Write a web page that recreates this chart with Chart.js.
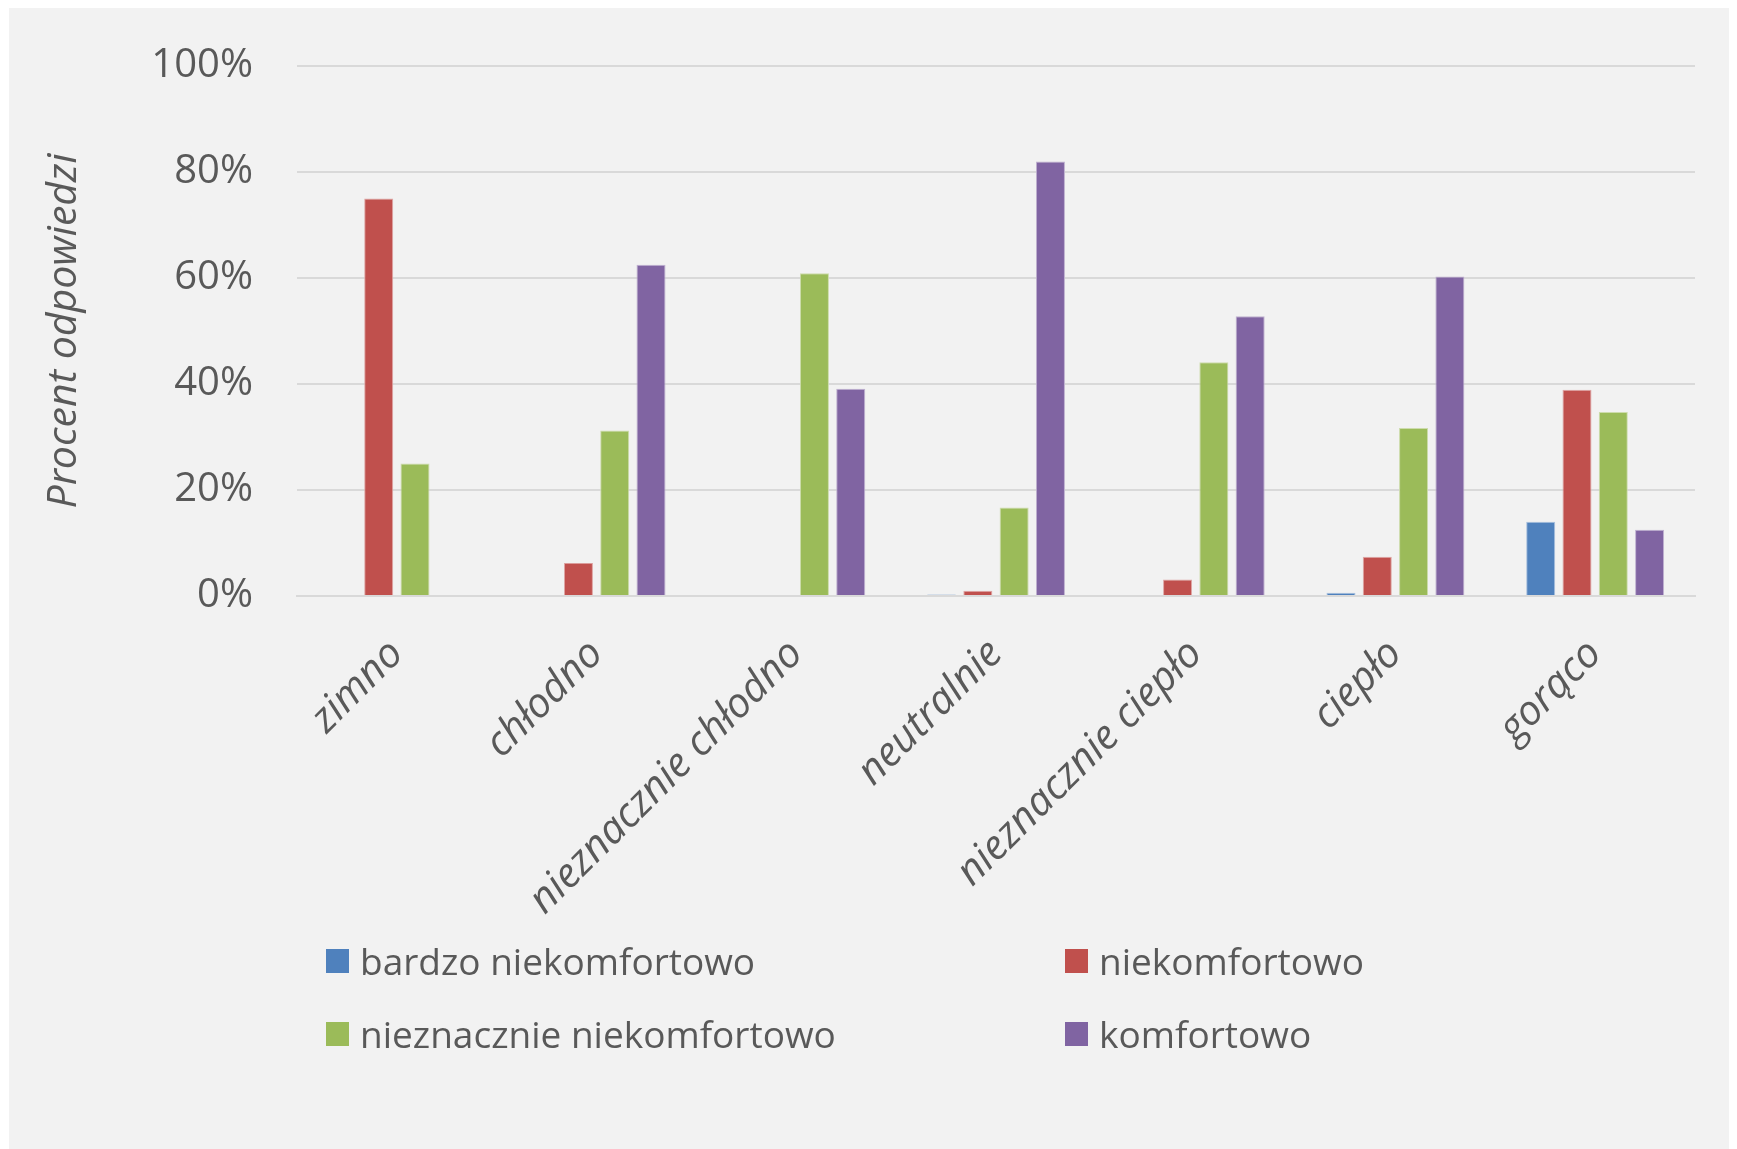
<!DOCTYPE html>
<html lang="pl">
<head>
<meta charset="UTF-8">
<title>Procent odpowiedzi</title>
<script src="https://cdn.jsdelivr.net/npm/chart.js"></script>
<style>
    body {
        margin: 0;
        background: #ffffff;
        font-family: "Open Sans", sans-serif;
    }
    #panel {
        position: absolute;
        left: 9px;
        top: 8px;
        width: 1720px;
        height: 1141px;
        background: #f2f2f2;
    }
    #chartBox {
        position: absolute;
        left: 0;
        top: 0;
        width: 1720px;
        height: 930px;
    }
    #legend {
        position: absolute;
        left: 317px;
        top: 916px;
        display: grid;
        grid-template-columns: 739px 400px;
        grid-auto-rows: 73px;
        color: #595959;
        font-size: 37px;
    }
    .item {
        display: flex;
        align-items: center;
    }
    .swatch {
        width: 23px;
        height: 24px;
        margin-right: 11px;
    }
</style>
</head>
<body>
<div id="panel">
    <div id="chartBox"><canvas id="myChart"></canvas></div>
    <div id="legend"></div>
</div>

<script>
    const categories = ['zimno', 'chłodno', 'nieznacznie chłodno', 'neutralnie', 'nieznacznie ciepło', 'ciepło', 'gorąco'];
    const seriesNames = ['bardzo niekomfortowo', 'niekomfortowo', 'nieznacznie niekomfortowo', 'komfortowo'];
    const bardzoNiekomfortowo = [0, 0, 0, 0.3, 0, 0.6, 14.0];
    const niekomfortowo = [75.0, 6.25, 0, 1.0, 3.1, 7.4, 38.9];
    const nieznacznieNiekomfortowo = [25.0, 31.25, 60.9, 16.7, 44.1, 31.7, 34.7];
    const komfortowo = [0, 62.5, 39.1, 82.0, 52.8, 60.3, 12.5];
    const yTicks = [0, 20, 40, 60, 80, 100];

    const colors = ['#4f81bd', '#c0504d', '#9bbb59', '#8064a2'];
    const edges = ['#a7c0de', '#dfa7a6', '#cddcac', '#bfb1d0'];
    const values = [bardzoNiekomfortowo, niekomfortowo, nieznacznieNiekomfortowo, komfortowo];

    const textColor = '#595959';
    const gridColor = '#d9d9d9';

    const datasets = seriesNames.map((name, i) => ({
        label: name,
        data: values[i],
        backgroundColor: colors[i],
        borderColor: edges[i],
        borderWidth: 1,
        categoryPercentage: 0.727,
        barPercentage: 0.8
    }));

    const ctx = document.getElementById('myChart').getContext('2d');
    const chart = new Chart(ctx, {
        type: 'bar',
        data: {
            labels: categories,
            datasets: datasets
        },
        options: {
            responsive: true,
            maintainAspectRatio: false,
            animation: false,
            layout: {
                padding: { top: 58, right: 34, left: 0, bottom: 0 }
            },
            plugins: {
                legend: { display: false },
                tooltip: { enabled: false }
            },
            scales: {
                x: {
                    grid: { display: false },
                    border: { display: true, color: gridColor, width: 2 },
                    ticks: {
                        color: textColor,
                        font: { family: 'Open Sans', size: 41, style: 'italic' },
                        minRotation: 45,
                        maxRotation: 45,
                        autoSkip: false,
                        padding: 26
                    },
                    afterFit: function(scale) {
                        scale.height = 342;
                    }
                },
                y: {
                    min: 0,
                    max: 100,
                    afterBuildTicks: function(scale) {
                        scale.ticks = yTicks.map(v => ({ value: v }));
                    },
                    grid: { color: gridColor, lineWidth: 2, drawTicks: false },
                    border: { display: false },
                    ticks: {
                        color: textColor,
                        font: { family: 'Open Sans', size: 40 },
                        padding: 44,
                        callback: v => v + '%'
                    },
                    title: {
                        display: true,
                        text: 'Procent odpowiedzi',
                        color: textColor,
                        font: { family: 'Open Sans', size: 41, style: 'italic' },
                        padding: { top: 31, bottom: 0 }
                    },
                    afterFit: function(scale) {
                        scale.width = 288;
                        // the tick padding must not push the plot area down
                        scale.paddingTop = 0;
                        scale.paddingBottom = 0;
                    }
                }
            }
        }
    });

    // legenda w dwóch kolumnach, jak w oryginale
    const legend = document.getElementById('legend');
    chart.data.datasets.forEach((ds, i) => {
        const item = document.createElement('div');
        item.className = 'item';
        const sw = document.createElement('span');
        sw.className = 'swatch';
        sw.style.background = ds.backgroundColor;
        const txt = document.createElement('span');
        txt.textContent = ds.label;
        item.appendChild(sw);
        item.appendChild(txt);
        legend.appendChild(item);
    });
</script>
</body>
</html>
